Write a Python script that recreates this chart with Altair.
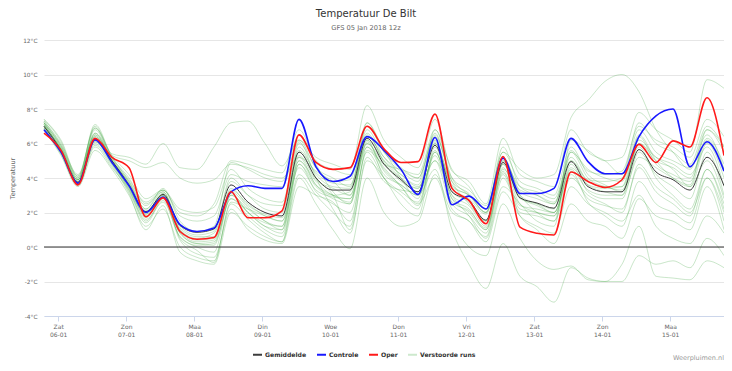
import altair as alt
import pandas as pd
import json

# time grid: hours relative to 06-01 00:00 local time (6-hourly GFS output)
hours = list(range(-5, 241, 6))

gemiddelde = [7.0, 5.6, 3.75, 6.25, 5.0, 3.6, 2.05, 3.05, 1.25, 0.85, 1.05, 3.6, 2.6,
              2.0, 1.8, 5.5, 4.0, 3.3, 3.3, 6.3, 4.8, 3.9, 3.2, 5.9, 3.2,
              2.7, 1.55, 4.9, 2.85, 2.55, 2.25, 4.95, 3.5, 3.2, 3.2, 5.65, 4.35,
              3.9, 3.3, 5.2, 3.55]

controle = [6.8, 5.5, 3.7, 6.2, 4.9, 3.55, 2.0, 2.9, 1.3, 0.9, 1.1, 3.2, 3.55,
            3.4, 3.4, 7.4, 4.65, 3.8, 4.1, 6.4, 5.6, 4.5, 3.05, 6.35, 2.45,
            2.95, 2.2, 5.15, 3.1, 3.1, 3.4, 6.3, 4.95, 4.25, 4.25, 6.4, 7.6,
            8.0, 4.65, 6.1, 4.4]

oper = [6.6, 5.6, 3.6, 6.3, 5.2, 4.6, 1.75, 2.85, 0.9, 0.45, 0.55, 3.2, 1.7,
        1.7, 2.1, 6.5, 4.9, 4.5, 4.6, 7.0, 5.7, 4.9, 4.95, 7.7, 3.4,
        2.7, 1.35, 5.25, 1.15, 0.8, 0.7, 4.35, 3.8, 3.45, 3.9, 5.95, 4.9,
        6.15, 5.8, 8.65, 5.3]

verstoorde_runs = [
    [7.3, 6.0, 4.2, 6.9, 5.4, 5.2, 4.8, 6.0, 4.6, 4.5, 5.8, 7.2, 7.3, 6.0, 4.7, 6.2, 4.6, 4.0, 3.5, 7.0, 5.5,
     4.6, 4.0, 6.5, 3.8, 2.5, 1.5, 4.5, 3.0, 2.0, 1.5, 5.5, 4.5, 4.0, 3.8, 6.5, 5.0, 4.0, 3.5, 6.0, 4.0],
    [7.2, 5.9, 4.1, 7.0, 5.3, 5.0, 4.6, 4.9, 4.0, 3.7, 3.9, 4.8, 4.6, 4.2, 4.0, 5.2, 4.4, 3.8, 3.0, 6.2, 5.0,
     4.2, 3.5, 5.0, 3.0, 1.8, 0.5, 3.5, 2.5, 1.5, 1.2, 6.2, 5.6, 5.0, 5.2, 7.8, 6.8, 6.2, 5.5, 9.7, 9.2],
    [7.1, 5.7, 3.9, 6.6, 5.0, 3.8, 2.4, 3.3, 2.0, 1.8, 2.5, 5.0, 4.8, 4.5, 4.3, 6.8, 4.8, 3.2, 2.5, 7.2, 5.6,
     4.0, 2.8, 6.8, 4.0, 3.0, 2.0, 5.5, 4.5, 4.0, 4.2, 7.5, 8.5, 9.6, 10.0, 9.0, 6.8, 5.5, 4.5, 6.8, 5.5],
    [6.9, 5.4, 3.6, 6.0, 4.8, 3.4, 1.8, 2.9, 0.8, 0.2, 0.3, 2.8, 2.0, 1.2, 0.8, 4.8, 3.5, 2.8, 2.5, 6.0, 4.5,
     3.6, 3.0, 4.5, 1.0, -1.0, -2.4, 0.2, -1.7, -2.3, -3.2, -1.2, -1.8, -2.0, -1.0, 1.2, -1.7, -1.8, -1.9, -0.8, -1.2],
    [7.0, 5.5, 3.7, 6.1, 4.9, 3.3, 1.6, 2.6, 0.6, 0.0, -0.3, 3.0, 2.2, 1.5, 1.0, 5.0, 3.8, 3.0, 2.8, 6.1, 4.4,
     3.5, 2.5, 4.0, 1.5, 0.0, -0.5, 2.5, 0.5, -0.8, -1.3, -1.1, -1.9, -2.0, -2.0, -0.5, -1.0, -0.8, -1.2, 0.5, -0.5],
    [7.4, 6.1, 4.0, 7.1, 5.2, 4.0, 2.5, 3.2, 1.0, 0.5, 0.8, 3.2, 2.3, 1.5, 1.2, 5.8, 4.2, 3.5, 3.4, 6.8, 5.2,
     4.2, 3.6, 6.2, 3.5, 3.0, 2.0, 5.8, 3.5, 3.0, 2.5, 5.5, 4.0, 3.5, 3.3, 6.0, 5.0, 4.6, 4.0, 6.3, 4.8],
    [6.8, 5.3, 3.5, 5.6, 4.5, 3.0, 1.2, 2.2, 0.0, -0.6, -0.8, 2.5, 1.6, 0.8, 0.3, 4.8, 3.2, 2.5, 2.0, 5.5, 4.0,
     3.2, 2.6, 5.5, 2.8, 2.0, 1.0, 4.2, 2.0, 1.8, 1.5, 4.0, 3.0, 2.5, 2.0, 4.8, 3.5, 2.8, 2.0, 4.0, 2.0],
    [7.0, 5.6, 3.8, 6.3, 4.9, 3.5, 1.9, 3.0, 0.5, -0.2, -0.9, 2.6, 2.2, 1.8, 1.5, 5.5, 4.0, 3.0, 1.0, 5.0, 4.0,
     2.5, 1.8, 5.5, 3.0, 2.4, 1.2, 4.6, 2.5, 2.0, 1.8, 4.8, 3.2, 2.8, 2.8, 5.5, 4.2, 3.5, 2.8, 5.5, 3.0],
    [7.2, 5.8, 3.9, 6.4, 5.1, 3.7, 2.2, 3.2, 1.3, 0.9, 1.2, 4.9, 4.5, 4.0, 3.8, 6.5, 5.0, 4.5, 4.2, 6.2, 4.0,
     3.0, 2.2, 5.8, 2.8, 2.2, 1.0, 4.8, 3.0, 2.5, 2.0, 4.5, 3.3, 3.0, 3.0, 6.2, 5.2, 4.5, 3.5, 5.0, 2.8],
    [6.9, 5.5, 3.6, 6.2, 4.8, 3.2, 1.4, 2.7, 0.4, -0.4, -0.6, 2.2, 1.0, 0.4, 0.2, 3.5, 3.0, 2.6, 1.5, 5.6, 4.8,
     4.5, 4.2, 6.8, 4.5, 3.5, 2.2, 5.0, 3.5, 3.2, 2.8, 5.2, 3.8, 3.5, 3.5, 5.8, 4.0, 3.0, 2.2, 4.5, 2.2],
    [7.3, 5.9, 4.0, 6.5, 5.1, 3.9, 2.6, 3.3, 1.8, 1.5, 1.8, 4.2, 3.8, 3.6, 3.5, 6.2, 5.2, 4.8, 4.5, 8.2, 6.2,
     5.2, 4.6, 7.4, 4.4, 3.8, 2.5, 6.3, 4.2, 3.8, 3.5, 6.8, 5.5, 5.0, 4.2, 7.2, 6.0, 5.5, 4.8, 7.0, 5.8],
    [7.1, 5.6, 3.7, 5.9, 4.7, 3.1, 1.0, 2.4, -0.3, -0.8, -1.0, 2.0, 1.2, 0.6, 0.3, 4.0, 2.5, 1.0, -0.1, 4.0, 2.0,
     1.2, 1.5, 4.2, 2.0, 1.5, 0.3, 3.2, 1.8, 1.2, 0.8, 3.5, 2.5, 2.0, 1.5, 3.0, 1.2, 0.5, 0.2, 1.8, 0.8],
    [7.0, 5.7, 3.8, 6.6, 5.2, 3.8, 2.2, 3.4, 1.5, 0.9, 1.0, 4.0, 3.0, 2.2, 2.0, 6.0, 4.6, 3.8, 3.9, 7.2, 5.5,
     4.5, 4.0, 6.4, 4.0, 3.3, 2.4, 5.2, 3.3, 3.0, 2.6, 5.0, 3.6, 3.2, 3.0, 5.2, 4.6, 4.0, 3.6, 6.8, 5.8],
    [7.2, 5.6, 3.9, 6.8, 5.0, 3.5, 1.7, 3.1, 0.8, 0.2, 0.1, 3.0, 2.0, 1.2, 1.0, 5.2, 3.6, 3.0, 3.2, 6.5, 5.0,
     4.0, 3.2, 5.0, 2.2, 1.5, 0.6, 4.0, 1.8, 1.0, 0.2, 2.5, 1.5, 1.2, 0.5, 2.8, 1.8, 1.5, 1.0, 3.5, 1.0],
    [6.8, 5.4, 3.6, 5.8, 4.6, 3.3, 1.5, 2.8, 1.0, 0.4, 0.5, 3.3, 2.5, 1.8, 1.5, 4.6, 3.3, 2.9, 2.8, 5.8, 4.2,
     3.6, 3.0, 5.3, 2.6, 2.1, 1.1, 4.3, 2.4, 2.2, 2.0, 4.6, 3.6, 3.4, 3.5, 6.4, 4.8, 4.2, 3.8, 6.2, 4.5],
    [7.1, 5.7, 3.8, 6.5, 5.0, 3.6, 2.0, 3.1, 1.2, 0.7, 0.9, 3.8, 3.0, 2.5, 2.4, 5.6, 4.3, 3.7, 3.6, 6.6, 4.9,
     3.8, 3.4, 6.0, 3.4, 2.8, 1.9, 5.2, 3.2, 2.8, 2.5, 5.0, 3.9, 3.8, 4.0, 6.8, 5.5, 5.0, 4.6, 6.5, 4.5],
    [7.4, 6.2, 4.1, 6.9, 5.3, 4.2, 2.8, 3.3, 2.2, 2.0, 2.3, 4.5, 3.4, 2.8, 2.6, 6.1, 4.0, 2.2, 0.8, 5.2, 3.8,
     3.3, 3.2, 6.0, 3.6, 3.0, 2.2, 5.5, 3.8, 3.4, 3.0, 5.8, 4.2, 3.6, 3.2, 6.0, 5.2, 4.8, 4.2, 5.8, 3.5],
    [6.9, 5.5, 3.7, 6.1, 4.9, 3.4, 1.9, 2.9, 0.6, 0.1, 0.2, 2.8, 1.8, 1.0, 0.6, 4.2, 3.0, 2.0, 1.2, 5.8, 4.6,
     3.5, 2.4, 5.6, 2.5, 1.8, 0.8, 4.4, 2.2, 2.0, 1.8, 4.2, 2.8, 2.4, 2.2, 4.6, 3.2, 2.5, 1.8, 4.5, 2.5],
    [7.0, 5.6, 3.7, 6.3, 5.0, 3.7, 2.1, 3.0, 1.1, 0.6, 0.6, 3.4, 2.4, 1.9, 1.7, 5.3, 3.9, 3.4, 3.0, 6.0, 4.8,
     4.0, 3.4, 6.1, 3.2, 2.6, 1.5, 4.8, 2.8, 2.5, 2.2, 5.6, 4.4, 4.2, 4.4, 7.0, 6.2, 5.8, 5.2, 7.4, 6.4],
    [7.2, 5.8, 3.9, 6.4, 5.0, 3.6, 2.0, 3.0, 0.9, 0.3, 0.4, 3.1, 2.0, 1.4, 1.2, 5.0, 3.6, 3.0, 2.6, 6.4, 5.2,
     4.4, 3.8, 6.6, 3.8, 3.1, 2.0, 5.0, 2.9, 2.4, 2.0, 4.4, 2.6, 1.8, 1.2, 3.8, 2.5, 2.0, 1.4, 4.0, 1.5],
]

day_names = ["Zat", "Zon", "Maa", "Din", "Woe", "Don", "Vri", "Zat", "Zon", "Maa"]
day_dates = ["06-01", "07-01", "08-01", "09-01", "10-01", "11-01", "12-01", "13-01", "14-01", "15-01"]
y_ticks = [-4, -2, 0, 2, 4, 6, 8, 10, 12]

series_names = ["Gemiddelde", "Controle", "Oper", "Verstoorde runs"]
# legend colours; the ensemble legend swatch is the pale green seen in the reference
series_colors = ["#3c3c3c", "#1818ff", "#ff1a1a", "#cde9cd"]
member_color = "#3fa53f"

for s in [gemiddelde, controle, oper] + verstoorde_runs:
    assert len(s) == len(hours), len(s)


def frame(name, values, member):
    return pd.DataFrame({"day": [h / 24 for h in hours], "temp": values,
                         "series": name, "member": member})


df_members = pd.concat([frame("Verstoorde runs", v, f"p{i + 1}") for i, v in enumerate(verstoorde_runs)])
df_gem = frame("Gemiddelde", gemiddelde, "gem")
df_ctl = frame("Controle", controle, "ctl")
df_op = frame("Oper", oper, "op")

FONT = "DejaVu Sans"

x_axis = alt.Axis(values=list(range(len(day_names))),
                  labelExpr="[" + json.dumps(day_names) + "[datum.value], " + json.dumps(day_dates) + "[datum.value]]",
                  title=None, grid=False, tickSize=5, tickColor="#ccd6eb", domainColor="#ccd6eb",
                  labelFont=FONT, labelFontSize=6, labelColor="#666666", labelPadding=2,
                  labelLineHeight=8.5, labelFlush=False, labelOverlap=False)
y_axis = alt.Axis(values=y_ticks, labelExpr="datum.value + '°C'", title="Temperatuur",
                  grid=True, gridColor="#e6e6e6", domain=False, ticks=False,
                  labelFont=FONT, labelFontSize=5.8, labelColor="#666666", labelPadding=7,
                  titleFont=FONT, titleFontSize=6.5, titleColor="#666666", titleFontWeight="normal",
                  titleX=-32, titleY=138, titleAngle=-90, titleAlign="center", titleBaseline="middle")

x_enc = alt.X("day:Q", scale=alt.Scale(domain=[hours[0] / 24, hours[-1] / 24], nice=False, zero=False), axis=x_axis)
y_enc = alt.Y("temp:Q", scale=alt.Scale(domain=[-4, 12], nice=False, zero=False), axis=y_axis)

legend = alt.Legend(title=None, orient="none", legendX=208, legendY=309, direction="horizontal",
                    symbolType="stroke", symbolSize=81, symbolStrokeWidth=2,
                    labelFont=FONT, labelFontSize=6.1, labelFontWeight="bold", labelColor="#333333",
                    columnPadding=6, labelOffset=2)

color_enc = alt.Color("series:N", scale=alt.Scale(domain=series_names, range=series_colors), legend=legend)

members = alt.Chart(df_members).mark_line(
    interpolate="monotone", strokeWidth=1, color=member_color, opacity=0.28
).encode(x=x_enc, y=y_enc, detail="member:N")

zero = alt.Chart(pd.DataFrame({"temp": [0]})).mark_rule(color="#333333", strokeWidth=1).encode(y=y_enc)


def main_line(df, width):
    return alt.Chart(df).mark_line(interpolate="monotone", strokeWidth=width).encode(
        x=x_enc, y=y_enc, color=color_enc)


credits = alt.Chart(pd.DataFrame({"txt": ["Weerpluimen.nl"]})).mark_text(
    align="right", baseline="alphabetic", font=FONT, fontSize=6.5, color="#999999"
).encode(x=alt.value(680), y=alt.value(320), text="txt:N")

chart = alt.layer(
    members, zero, main_line(df_gem, 1), main_line(df_ctl, 1.6), main_line(df_op, 1.6), credits
).properties(
    width=680, height=276,
    title=alt.TitleParams(text="Temperatuur De Bilt", subtitle="GFS 05 Jan 2018 12z",
                          font=FONT, fontSize=10, fontWeight="normal", color="#333333",
                          subtitleFont=FONT, subtitleFontSize=6.7, subtitleColor="#666666",
                          anchor="middle", frame="group", dx=-18, offset=5, subtitlePadding=6),
    padding={"left": 36, "top": 32, "right": 0, "bottom": 47},
    autosize=alt.AutoSizeParams(type="none"),
).configure_view(stroke=None)

chart.save("out.html", embed_options={"renderer": "svg", "actions": False})
